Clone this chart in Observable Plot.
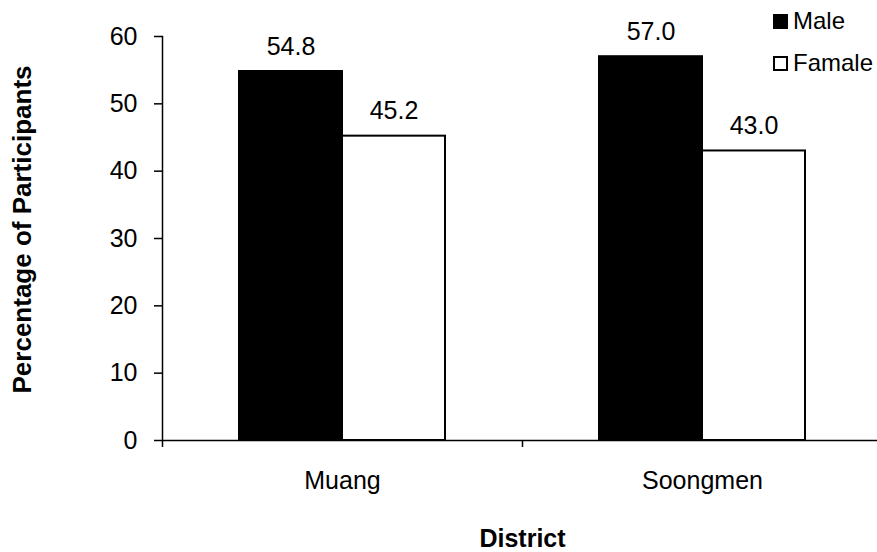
<!DOCTYPE html>
<html>
<head>
<meta charset="utf-8">
<script src="https://cdn.jsdelivr.net/npm/d3@7"></script>
<script src="https://cdn.jsdelivr.net/npm/@observablehq/plot@0.6"></script>
<style>
  body { margin: 0; background: #fff; font-family: "Liberation Sans", Arial, sans-serif; }
  #chart { position: relative; width: 877px; height: 552px; }
  .legend { position: absolute; left: 773px; top: 0px; font-size: 24px; color: #000; }
  .legend .row { display: flex; align-items: center; height: 42px; }
  .legend .sw { width: 15px; height: 15px; box-sizing: border-box; border: 2px solid #000; margin-right: 5px; }
</style>
</head>
<body>
<div id="chart"></div>
<script>
// Share of participants by district and sex
const districts = ["Muang", "Soongmen"];
const sexes = ["Male", "Famale"];
const maleValues = [54.8, 57.0];
const femaleValues = [45.2, 43.0];
const yTicks = [0, 10, 20, 30, 40, 50, 60];
const sexFills = ["#000000", "#ffffff"];

const yTitle = "Percentage of Participants";
const xTitle = "District";

const rows = districts.flatMap((d, i) => [
  {district: d, sex: sexes[0], value: maleValues[i]},
  {district: d, sex: sexes[1], value: femaleValues[i]}
]);

const W = 877, H = 552, ML = 162, MR = -5;
const facetStep = (W - ML - MR) / districts.length;

const chart = Plot.plot({
  width: W,
  height: H,
  marginLeft: ML,
  marginRight: MR,
  marginTop: 36,
  marginBottom: 112,
  style: {fontFamily: "'Liberation Sans', Arial, sans-serif", fontSize: "25px", color: "#000", background: "#fff", overflow: "visible"},
  fx: {domain: districts, padding: 0},
  x: {domain: sexes, paddingInner: 0, paddingOuter: 0.74, axis: null},
  y: {domain: [0, 60]},
  color: {domain: sexes, range: sexFills},
  marks: [
    Plot.barY(rows, {fx: "district", x: "sex", y: "value", fill: "sex", stroke: "#000", strokeWidth: 2}),
    Plot.text(rows, {fx: "district", x: "sex", y: "value", text: d => d.value.toFixed(1), dy: -25, lineAnchor: "middle", fontSize: 25, fill: "#000"}),
    Plot.ruleY([0], {stroke: "#000", strokeWidth: 1.5}),
    Plot.frame({anchor: "left", facetAnchor: "left", stroke: "#000", strokeWidth: 1.5}),
    Plot.axisY({ticks: yTicks, tickSize: 8, tickPadding: 17, strokeWidth: 1.5, fontSize: 25,
      label: yTitle, labelAnchor: "center", labelOffset: 150, labelArrow: "none"}),
    Plot.axisFx({anchor: "bottom", tickSize: 7, strokeWidth: 1.5, tickFormat: () => "", label: null, dx: -facetStep / 2}),
    Plot.axisFx({anchor: "bottom", tickSize: 0, tickPadding: 31, fontSize: 25,
      label: xTitle, labelAnchor: "center", labelOffset: 106, labelArrow: "none"})
  ]
});

// axis titles are bold, tick labels are regular
d3.select(chart).selectAll("[aria-label='y-axis label'] text, [aria-label='y-axis label']")
  .attr("font-weight", "bold").attr("font-size", 26);
d3.select(chart).selectAll("[aria-label='y-axis label'] text").attr("dx", 9);
d3.select(chart).selectAll("[aria-label='fx-axis label'] text, [aria-label='fx-axis label']")
  .attr("font-weight", "bold").attr("font-size", 25);

const host = document.getElementById("chart");
host.appendChild(chart);

const legend = document.createElement("div");
legend.className = "legend";
sexes.forEach((s, i) => {
  const row = document.createElement("div");
  row.className = "row";
  const sw = document.createElement("span");
  sw.className = "sw";
  sw.style.background = sexFills[i];
  const label = document.createElement("span");
  label.textContent = s;
  row.appendChild(sw);
  row.appendChild(label);
  legend.appendChild(row);
});
host.appendChild(legend);
</script>
</body>
</html>
